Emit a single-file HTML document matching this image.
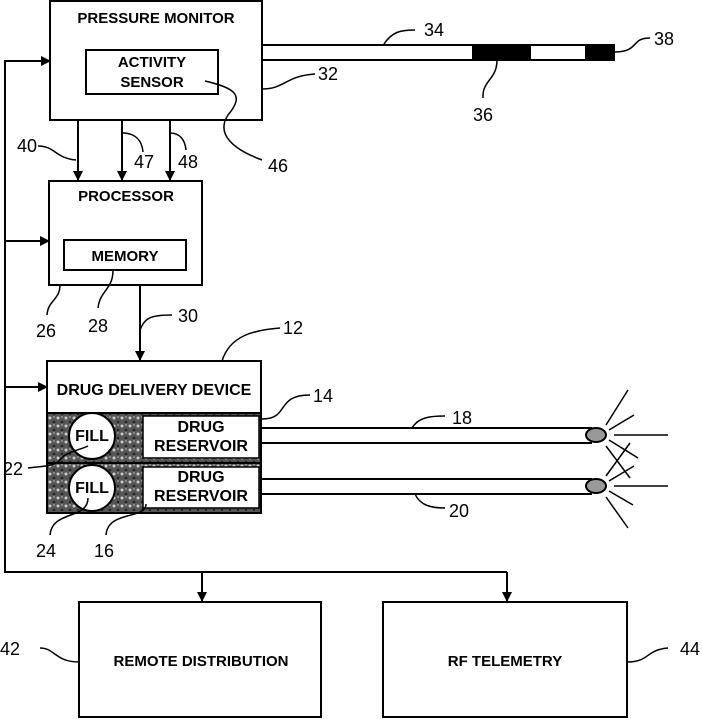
<!DOCTYPE html>
<html><head><meta charset="utf-8"><style>
html,body{margin:0;padding:0;background:#fff;}
svg{display:block;}
text{font-family:"Liberation Sans",Arial,sans-serif;fill:#000;}
.b{font-weight:bold;font-size:15px;}
.n{font-size:18px;}
</style></head><body>
<svg width="702" height="722" viewBox="0 0 702 722" xmlns="http://www.w3.org/2000/svg">
<defs>
<marker id="a" markerWidth="10" markerHeight="10" refX="9" refY="5" orient="auto" markerUnits="userSpaceOnUse">
<path d="M0,0 L10,5 L0,10 Z" fill="#000"/></marker>
<pattern id="t" width="8" height="8" patternUnits="userSpaceOnUse">
<rect width="8" height="8" fill="#555"/>
<circle cx="2" cy="2" r="1.5" fill="#ccc"/><circle cx="6" cy="6" r="1.2" fill="#222"/><circle cx="6" cy="1" r="0.9" fill="#aaa"/>
</pattern>
</defs>
<g fill="none" stroke="#000" stroke-width="2">
<rect x="50" y="1" width="212" height="119" fill="#fff"/>
<rect x="86" y="50" width="132" height="44"/>
<line x1="262" y1="45" x2="614" y2="45"/>
<line x1="262" y1="60" x2="614" y2="60"/>
<rect x="473" y="45" width="57" height="15" fill="#000"/>
<rect x="586" y="45" width="28" height="15" fill="#000"/>
<line x1="78" y1="120" x2="78" y2="180" marker-end="url(#a)"/>
<line x1="122" y1="120" x2="122" y2="180" marker-end="url(#a)"/>
<line x1="170" y1="120" x2="170" y2="180" marker-end="url(#a)"/>
<rect x="49" y="181" width="153" height="104"/>
<rect x="64" y="240" width="122" height="30"/>
<line x1="140" y1="285" x2="140" y2="360" marker-end="url(#a)"/>
<rect x="47" y="413" width="214" height="100" fill="url(#t)" stroke="none"/>
<rect x="47" y="361" width="214" height="152"/>
<line x1="47" y1="413" x2="261" y2="413"/>
<line x1="47" y1="463" x2="261" y2="463"/>
<rect x="143" y="416" width="116" height="42" fill="#fff" stroke-width="1.5"/>
<rect x="143" y="467" width="116" height="41" fill="#fff" stroke-width="1.5"/>
<circle cx="92" cy="436" r="23" fill="#fff"/>
<circle cx="92" cy="488" r="23" fill="#fff"/>
<line x1="261" y1="428" x2="592" y2="428"/>
<line x1="261" y1="443" x2="592" y2="443"/>
<line x1="261" y1="479" x2="592" y2="479"/>
<line x1="261" y1="494" x2="592" y2="494"/>
<ellipse cx="596" cy="435" rx="10" ry="7" fill="#999"/>
<ellipse cx="596" cy="486" rx="10" ry="7" fill="#999"/>
<g stroke-width="1.5">
<line x1="606" y1="425" x2="628" y2="390"/><line x1="609" y1="430" x2="634" y2="415"/><line x1="614" y1="435" x2="668" y2="435"/>
<line x1="609" y1="440" x2="638" y2="458"/><line x1="606" y1="446" x2="630" y2="478"/>
<line x1="606" y1="476" x2="630" y2="443"/><line x1="609" y1="481" x2="634" y2="466"/><line x1="614" y1="486" x2="668" y2="486"/>
<line x1="609" y1="491" x2="633" y2="505"/><line x1="606" y1="497" x2="628" y2="528"/>
</g>
<polyline points="5,572 5,61 50,61" marker-end="url(#a)"/>
<line x1="5" y1="241" x2="49" y2="241" marker-end="url(#a)"/>
<line x1="5" y1="387" x2="47" y2="387" marker-end="url(#a)"/>
<line x1="4" y1="572" x2="507" y2="572"/>
<line x1="202" y1="572" x2="202" y2="601" marker-end="url(#a)"/>
<line x1="507" y1="572" x2="507" y2="601" marker-end="url(#a)"/>
<rect x="79" y="602" width="242" height="115"/>
<rect x="383" y="602" width="244" height="115"/>
<g stroke-width="1.5">
<path d="M384,44 C392,32 400,30 415,30"/>
<path d="M262,89 C285,89 285,76 315,74"/>
<path d="M614,52 C640,52 630,38 650,38"/>
<path d="M497,60 C497,80 482,80 483,98"/>
<path d="M205,81 C235,88 245,95 228,115 C215,135 235,150 262,160"/>
<path d="M38,146 C55,146 55,158 76,160"/>
<path d="M122,133 C135,133 142,140 143,152"/>
<path d="M170,133 C180,133 185,140 186,150"/>
<path d="M60,285 C60,300 48,300 47,315"/>
<path d="M113,270 C113,290 100,290 98,308"/>
<path d="M140,330 C145,318 150,315 172,315"/>
<path d="M222,361 C230,335 255,330 280,328"/>
<path d="M262,419 C290,419 275,395 310,395"/>
<path d="M412,428 C418,418 428,416 445,416"/>
<path d="M415,494 C420,505 430,508 445,508"/>
<path d="M28,468 C45,466 55,466 60,460 C65,452 80,450 88,446"/>
<path d="M88,498 C88,520 52,510 50,535"/>
<path d="M146,504 C146,520 108,510 106,535"/>
<path d="M40,648 C55,648 55,662 79,662"/>
<path d="M627,662 C650,662 645,650 668,648"/>
</g>
</g>
<text class="b" x="156" y="23" text-anchor="middle">PRESSURE MONITOR</text>
<text class="b" x="152" y="67" text-anchor="middle">ACTIVITY</text>
<text class="b" x="152" y="87" text-anchor="middle">SENSOR</text>
<text class="b" x="126" y="201" text-anchor="middle">PROCESSOR</text>
<text class="b" x="125" y="261" text-anchor="middle">MEMORY</text>
<text class="b" x="154" y="395" text-anchor="middle" style="font-size:16px">DRUG DELIVERY DEVICE</text>
<text class="b" x="92" y="441" text-anchor="middle" style="font-size:16px">FILL</text>
<text class="b" x="92" y="493" text-anchor="middle" style="font-size:16px">FILL</text>
<text class="b" x="201" y="432" text-anchor="middle" style="font-size:16px">DRUG</text>
<text class="b" x="201" y="451" text-anchor="middle" style="font-size:16px">RESERVOIR</text>
<text class="b" x="201" y="482" text-anchor="middle" style="font-size:16px">DRUG</text>
<text class="b" x="201" y="501" text-anchor="middle" style="font-size:16px">RESERVOIR</text>
<text class="b" x="201" y="666" text-anchor="middle">REMOTE DISTRIBUTION</text>
<text class="b" x="505" y="666" text-anchor="middle">RF TELEMETRY</text>
<g>
<text x="424" y="36" class="n">34</text>
<text x="318" y="80" class="n">32</text>
<text x="654" y="45" class="n">38</text>
<text x="473" y="121" class="n">36</text>
<text x="268" y="172" class="n">46</text>
<text x="17" y="152" class="n">40</text>
<text x="134" y="168" class="n">47</text>
<text x="178" y="168" class="n">48</text>
<text x="36" y="337" class="n">26</text>
<text x="88" y="332" class="n">28</text>
<text x="178" y="322" class="n">30</text>
<text x="283" y="334" class="n">12</text>
<text x="313" y="402" class="n">14</text>
<text x="452" y="424" class="n">18</text>
<text x="449" y="517" class="n">20</text>
<text x="3" y="475" class="n">22</text>
<text x="36" y="557" class="n">24</text>
<text x="94" y="557" class="n">16</text>
<text x="0" y="655" class="n">42</text>
<text x="680" y="655" class="n">44</text>
</g>
</svg>
</body></html>
